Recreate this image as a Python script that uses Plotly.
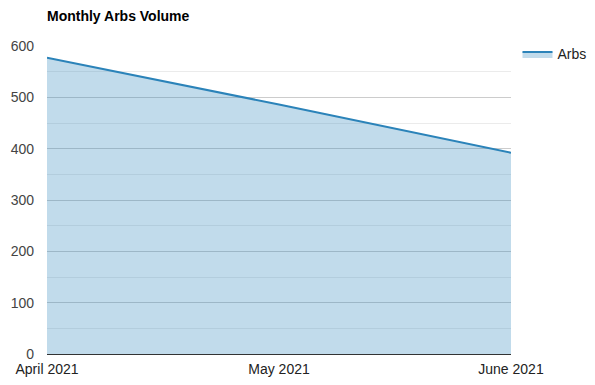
import plotly.graph_objects as go

months = ["April 2021", "May 2021", "June 2021"]
arbs = [577, 486, 392]

# page body adds ~8px offset; compensate in margins
OX, OY = 8, 8
W, H = 595 + OX, 385 + OY
L, T, PW, PH = 47 - OX, 46 - OY, 464, 308

fig = go.Figure()
fig.add_trace(go.Scatter(
    x=months, y=arbs, name="Arbs", mode="lines",
    line=dict(color="#2b83b9", width=2),
    fill="tozeroy", fillcolor="rgba(43,131,185,0.29)",
))

fig.update_layout(
    width=W, height=H,
    margin=dict(l=L, r=W - L - PW, t=T, b=H - T - PH, autoexpand=False),
    paper_bgcolor="white", plot_bgcolor="white",
    font=dict(family="Liberation Sans, Arial, sans-serif", size=14, color="#444"),
    title=dict(text="<b>Monthly Arbs Volume</b>", x=L / W, xanchor="left",
               y=1 - (16 - OY) / H, yanchor="middle", automargin=False,
               font=dict(size=14, color="#000")),
    showlegend=True,
    legend=dict(x=1.014, xanchor="left", y=1.025, yanchor="top",
                font=dict(size=14, color="#222"), bgcolor="rgba(0,0,0,0)"),
    xaxis=dict(type="category", range=[0, 2], showgrid=False, automargin=False,
               showline=True, linecolor="#333", linewidth=1,
               ticks="", ticklabelstandoff=2,
               tickfont=dict(size=14, color="#222")),
    yaxis=dict(range=[0, 600], dtick=100, showgrid=True, gridcolor="#cccccc",
               zeroline=False, ticks="", automargin=False, ticklabelstandoff=12,
               tickfont=dict(size=14, color="#444"),
               minor=dict(dtick=50, showgrid=True, gridcolor="#ebebeb")),
)

fig.write_html("out.html")
